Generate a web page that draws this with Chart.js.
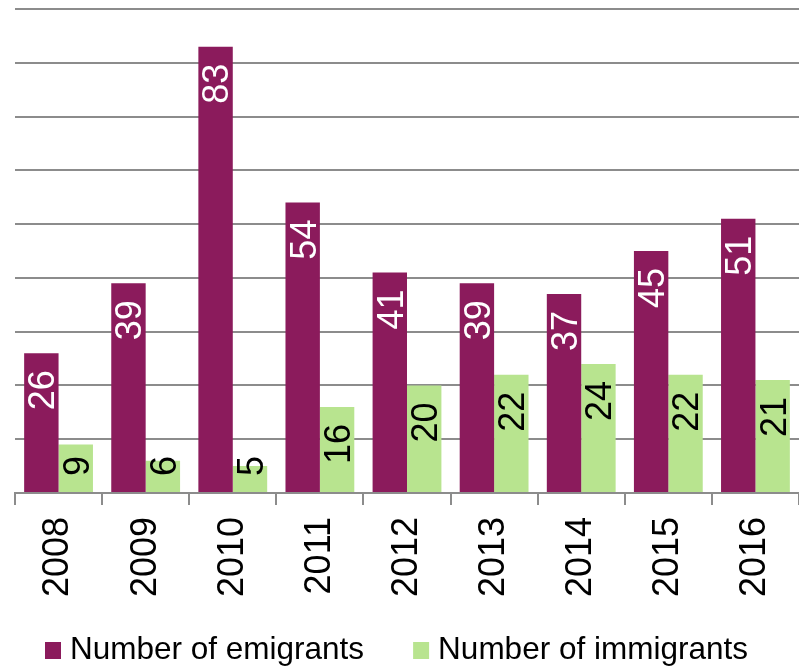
<!DOCTYPE html>
<html>
<head>
<meta charset="utf-8">
<script src="https://cdn.jsdelivr.net/npm/chart.js@4.4.1/dist/chart.umd.min.js"></script>
<style>
  html, body { margin: 0; padding: 0; background: #fff; }
  #wrap { width: 799px; height: 666px; }
</style>
</head>
<body>
<div id="wrap"><canvas id="migrationChart"></canvas></div>
<script>
// years and counts
const years = ['2008', '2009', '2010', '2011', '2012', '2013', '2014', '2015', '2016'];
const emigrants = [26, 39, 83, 54, 41, 39, 37, 45, 51];
const immigrants = [9, 6, 5, 16, 20, 22, 24, 22, 21];

const FONT = '"Liberation Sans", Arial, sans-serif';
const GRID = '#8c8c8c';

// value labels, rotated, placed inside the top of each bar
const barLabels = {
    id: 'barLabels',
    afterDatasetsDraw(chart) {
        const ctx = chart.ctx;
        const size = 36;
        ctx.save();
        ctx.font = size + 'px ' + FONT;
        ctx.textAlign = 'right';
        ctx.textBaseline = 'alphabetic';
        chart.data.datasets.forEach((ds, i) => {
            const meta = chart.getDatasetMeta(i);
            ctx.fillStyle = i === 0 ? '#ffffff' : '#000000';
            meta.data.forEach((bar, j) => {
                const txt = String(ds.data[j]);
                const w = ctx.measureText(txt).width;
                const yEnd = Math.min(bar.y + 17, bar.base - w - 16);
                ctx.save();
                ctx.translate(bar.x, yEnd);
                ctx.rotate(-Math.PI / 2);
                ctx.fillText(txt, 0, size * 0.716 / 2);
                ctx.restore();
            });
        });
        ctx.restore();
    }
};

// legend along the bottom, square swatch then the series name
const bottomLegend = {
    id: 'bottomLegend',
    afterDraw(chart) {
        const ctx = chart.ctx;
        const baseline = 659;
        let x = 45;
        ctx.save();
        ctx.font = '31.5px ' + FONT;
        ctx.textAlign = 'left';
        ctx.textBaseline = 'alphabetic';
        chart.data.datasets.forEach(ds => {
            ctx.fillStyle = ds.backgroundColor;
            ctx.fillRect(x, baseline - 17, 16, 17);
            ctx.fillStyle = '#000';
            ctx.fillText(ds.label, x + 25, baseline);
            x += 25 + ctx.measureText(ds.label).width + 49;
        });
        ctx.restore();
    }
};

new Chart(document.getElementById('migrationChart'), {
    type: 'bar',
    data: {
        labels: years,
        datasets: [
            { label: 'Number of emigrants', data: emigrants, backgroundColor: '#8b1b5c' },
            { label: 'Number of immigrants', data: immigrants, backgroundColor: '#b8e48f' }
        ]
    },
    options: {
        responsive: true,
        maintainAspectRatio: false,
        animation: false,
        categoryPercentage: 0.79,
        barPercentage: 1.0,
        layout: { padding: { left: 15, top: 9, right: -2, bottom: 68 } },
        plugins: {
            tooltip: { enabled: false },
            legend: { display: false }
        },
        scales: {
            y: {
                min: 0,
                max: 90,
                ticks: { display: false, stepSize: 10 },
                grid: { color: GRID, lineWidth: 2, drawTicks: false },
                border: { display: false },
                afterFit(scale) { scale.width = 0; }
            },
            x: {
                grid: { display: true, drawOnChartArea: false, drawTicks: true, tickLength: 12, color: GRID, lineWidth: 2 },
                border: { display: true, color: GRID, width: 2 },
                ticks: {
                    minRotation: 90,
                    maxRotation: 90,
                    padding: 12,
                    color: '#000',
                    font: { family: FONT, size: 36 }
                },
                afterFit(scale) {
                    // keep the plot running out to the right edge
                    scale.height = 105;
                    scale.paddingLeft = 0;
                    scale.paddingRight = 0;
                }
            }
        }
    },
    plugins: [barLabels, bottomLegend]
});
</script>
</body>
</html>
